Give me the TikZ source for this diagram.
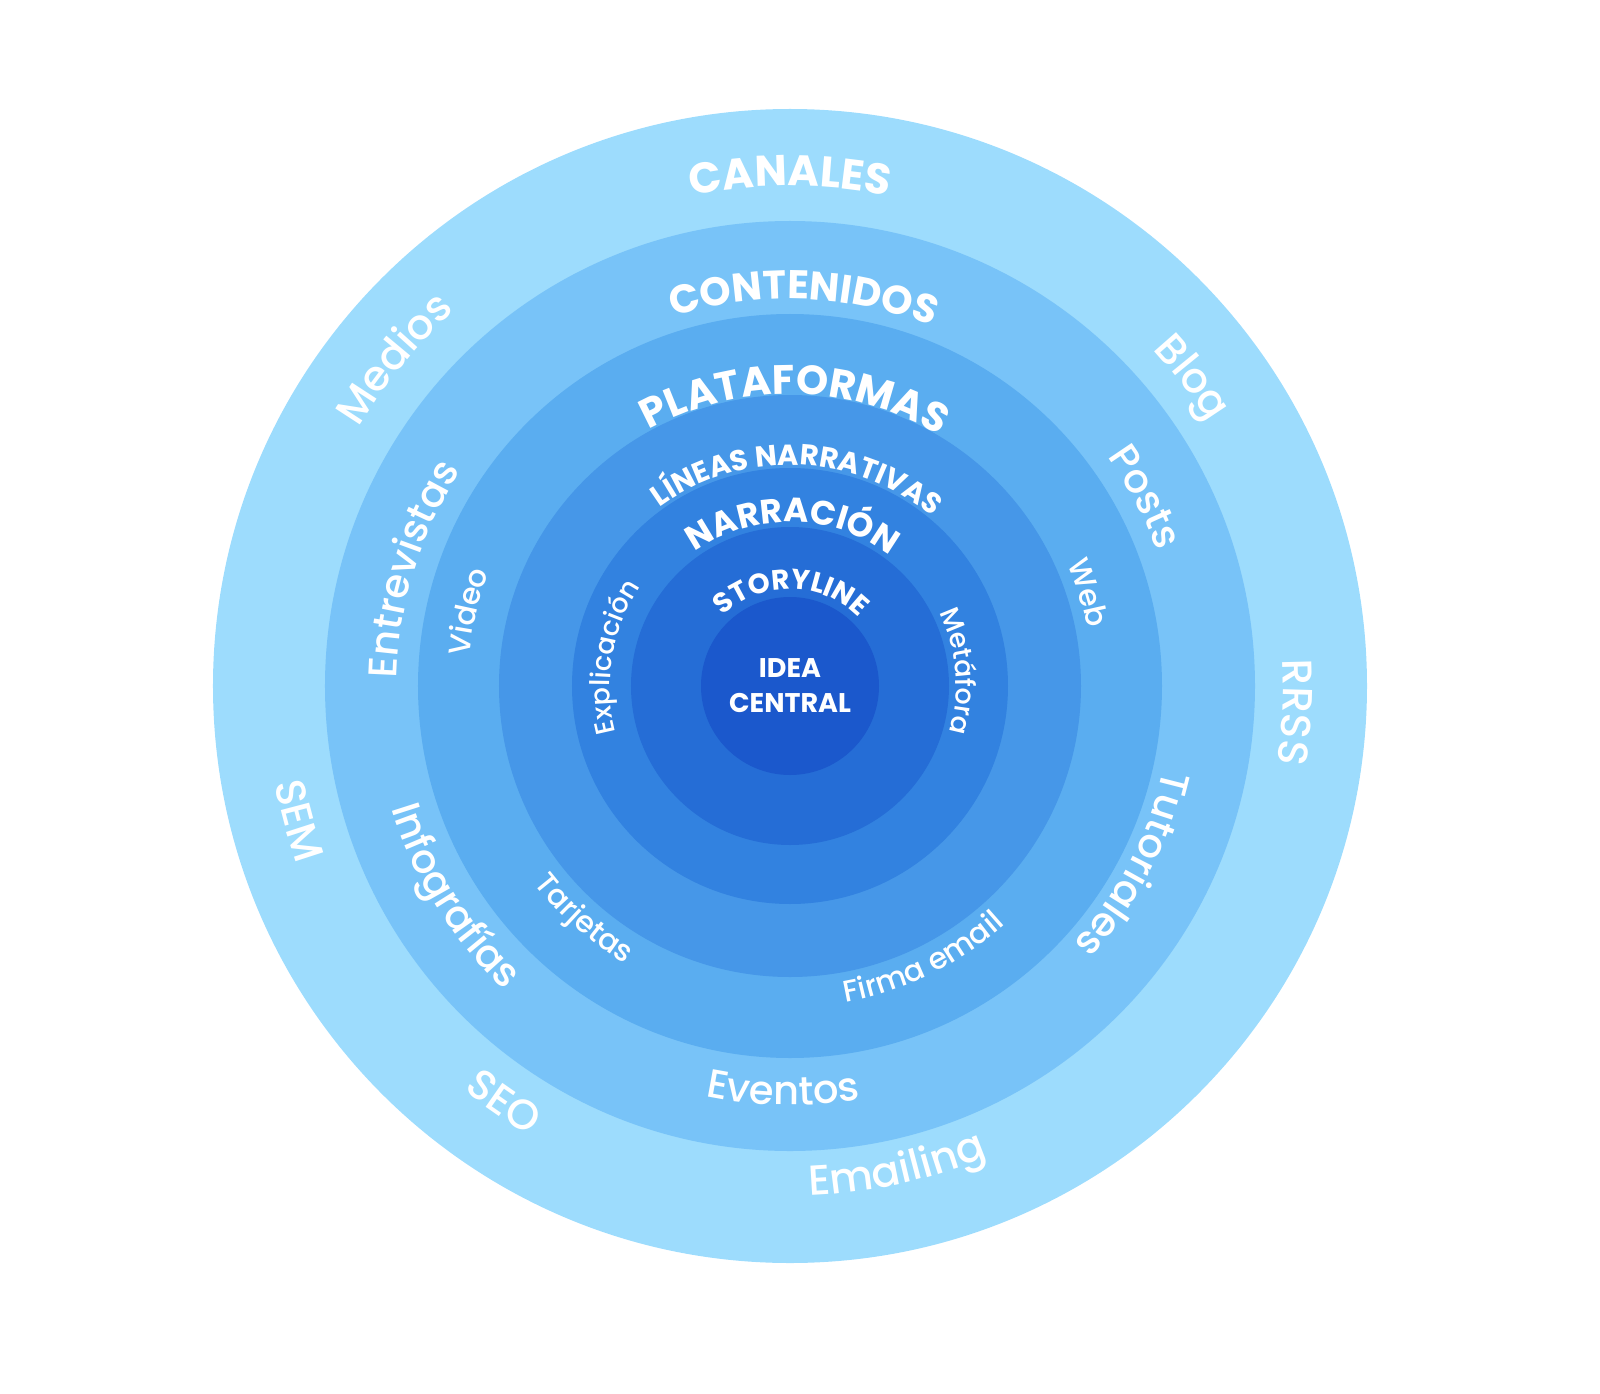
\documentclass[tikz,border=0pt]{standalone}
\usepackage{fontspec}
\setmainfont{Poppins}
\newfontfamily\medfont{Poppins Medium}
\usetikzlibrary{decorations.text}

\definecolor{ringA}{HTML}{9DDCFD}
\definecolor{ringB}{HTML}{78C3F8}
\definecolor{ringC}{HTML}{5AADF0}
\definecolor{ringD}{HTML}{4697E8}
\definecolor{ringE}{HTML}{3282E0}
\definecolor{ringF}{HTML}{256DD6}
\definecolor{ringG}{HTML}{1B58CC}

% clockwise label: radius, angle, font, text
\newcommand\cwlabel[4]{%
  \path[decorate,decoration={text along path,text align=center,text color=white,
    text={|#3|#4}}] (#2+80:#1) arc[start angle=#2+80,end angle=#2-80,radius=#1];}
% counterclockwise label
\newcommand\ccwlabel[4]{%
  \path[decorate,decoration={text along path,text align=center,text color=white,
    text={|#3|#4}}] (#2-80:#1) arc[start angle=#2-80,end angle=#2+80,radius=#1];}

\begin{document}
\begin{tikzpicture}[x=1pt,y=1pt
		,ring/.style={circle, minimum size=#1, inner sep=0pt, outer sep=0pt}
	]
	\useasboundingbox (-790,-707) rectangle (810,686);
	\node[ring=1154, fill=ringA] (canales) at (0,0) {};
	\node[ring=930, fill=ringB] (contenidos) at (0,0) {};
	\node[ring=744, fill=ringC] (plataformas) at (0,0) {};
	\node[ring=582, fill=ringD] (lineas) at (0,0) {};
	\node[ring=436, fill=ringE] (narracion) at (0,0) {};
	\node[ring=318, fill=ringF] (storyline) at (0,0) {};
	\node[ring=178, fill=ringG, text=white, align=center,
		font=\fontsize{27}{35}\selectfont\bfseries] (idea) at (0,0) {IDEA\\CENTRAL};

	\begin{scope}[overlay]
	% titles
	\cwlabel{500}{90}{\fontsize{43}{43}\selectfont\bfseries}{CANALES}
	\cwlabel{387}{88}{\fontsize{40}{40}\selectfont\bfseries}{CONTENIDOS}
	\cwlabel{292}{89}{\fontsize{41}{41}\selectfont\bfseries}{PLATAFORMAS}
	\cwlabel{221}{88}{\fontsize{29}{29}\selectfont\bfseries}{LÍNEAS NARRATIVAS}
	\cwlabel{164}{89}{\fontsize{34}{34}\selectfont\bfseries}{NARRACIÓN}
	\cwlabel{97}{89}{\fontsize{28}{28}\selectfont\bfseries}{STORYLINE}

	% canales
	\cwlabel{503}{140.4}{\fontsize{42}{42}\medfont}{Medios}
	\cwlabel{495}{37.5}{\fontsize{42}{42}\medfont}{Blog}
	\cwlabel{493}{-3}{\fontsize{42}{42}\medfont}{RRSS}
	\ccwlabel{524}{195.3}{\fontsize{42}{42}\medfont}{SEM}
	\ccwlabel{519}{235.5}{\fontsize{42}{42}\medfont}{SEO}
	\ccwlabel{510}{282.5}{\fontsize{42}{42}\medfont}{Emailing}

	% contenidos
	\cwlabel{393}{162.8}{\fontsize{40}{40}\medfont}{Entrevistas}
	\ccwlabel{417}{212}{\fontsize{40}{40}\medfont}{Infografías}
	\ccwlabel{419}{269}{\fontsize{40}{40}\medfont}{Eventos}
	\cwlabel{383}{-27.5}{\fontsize{40}{40}\medfont}{Tutoriales}
	\cwlabel{391}{28}{\fontsize{40}{40}\medfont}{Posts}

	% plataformas
	\cwlabel{322}{167}{\fontsize{30}{30}\medfont}{Video}
	\cwlabel{303}{17.4}{\fontsize{30}{30}\medfont}{Web}
	\ccwlabel{323}{228.5}{\fontsize{30}{30}\medfont}{Tarjetas}
	\ccwlabel{321}{296}{\fontsize{30}{30}\medfont}{Firma email}

	% narracion
	\cwlabel{180}{170.6}{\fontsize{27}{27}\medfont}{Explicación}
	\cwlabel{166}{5}{\fontsize{27}{27}\medfont}{Metáfora}
	\end{scope}
\end{tikzpicture}
\end{document}
